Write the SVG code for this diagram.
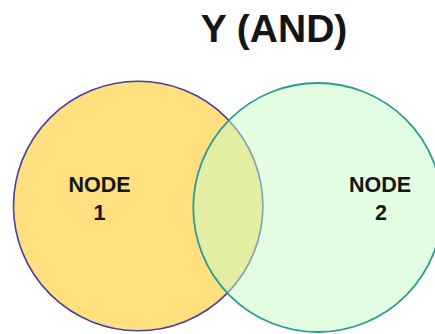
<svg xmlns="http://www.w3.org/2000/svg" width="435" height="334" viewBox="0 0 435 334">
<style>
.lbl{font-family:"Liberation Sans",Arial,sans-serif;font-weight:bold;fill:#151515;text-anchor:middle}
.node{font-size:21.5px}
.title{font-size:39px}
</style>
<rect width="435" height="334" fill="#ffffff"/>
<text class="lbl title" x="274" y="42">Y (AND)</text>
<g id="node1">
<circle cx="138.2" cy="206" r="124.7" fill="#FFE07F" stroke="#4A3F9A" stroke-width="1.6"/>
</g>
<g id="node2">
<circle cx="317.8" cy="207.5" r="124.5" fill="#C7FBC7" fill-opacity="0.5" stroke="#2A9C90" stroke-width="1.8"/>
</g>
<g id="connectors"/>
<g id="labels">
<text class="lbl node" x="99.5" y="192">NODE</text>
<text class="lbl node" x="99.5" y="220">1</text>
<text class="lbl node" x="380" y="192">NODE</text>
<text class="lbl node" x="381" y="220">2</text>
</g>
</svg>
